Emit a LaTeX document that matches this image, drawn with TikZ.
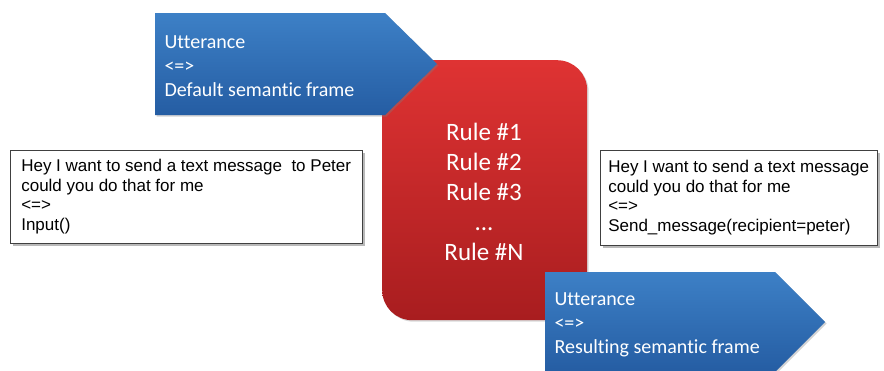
\documentclass[tikz,border=0pt]{standalone}
\usepackage{fontspec}
\setmainfont{Carlito}[Ligatures=NoCommon]
\newfontfamily\arialfont{Liberation Sans}
\usepackage{xcolor}
\usetikzlibrary{shadows}

\definecolor{bluetop}{HTML}{3D80C6}
\definecolor{bluebot}{HTML}{255DA3}
\definecolor{redtop}{HTML}{DF3333}
\definecolor{redbot}{HTML}{A81D1F}

\begin{document}
\begin{tikzpicture}[x=1pt,y=-1pt,
    framearrow/.style={top color=bluetop, bottom color=bluebot,
        drop shadow={shadow xshift=1.5pt, shadow yshift=-1.5pt, opacity=0.35}},
    frametext/.style={text=white, align=left, anchor=west,
        font=\fontsize{20}{24}\selectfont},
    msgbox/.style={draw=black!75, fill=white, align=left, anchor=north west,
        inner sep=0pt, font=\arialfont\fontsize{17}{19.5}\selectfont,
        drop shadow={shadow xshift=2.5pt, shadow yshift=-2.5pt, fill=black!55, opacity=0.5}}]
    % Define page size
    \useasboundingbox (0,0) rectangle (884,370);

    % Rule box in the middle
    \node[rounded corners=30pt, minimum width=205pt, minimum height=260pt,
        top color=redtop, bottom color=redbot, anchor=north west,
        drop shadow={shadow xshift=1.5pt, shadow yshift=-1.5pt, opacity=0.3}] (rules) at (382,60) {};
    \node[text=white, align=center, font=\fontsize{25}{30}\selectfont] (rulelist) at (484,192)
        {Rule \#1\\Rule \#2\\Rule \#3\\...\\Rule \#N};

    % Top arrow: default frame
    \path[framearrow] (155,13) -- (385,13) -- (437,64) -- (385,115) -- (155,115) -- cycle;
    \node[frametext] (deftext) at (161,66) {Utterance\\<=>\\Default semantic frame};

    % Bottom arrow: resulting frame
    \begin{scope}
        \clip (0,0) rectangle (884,370);
        \path[framearrow] (545,272) -- (775,272) -- (825,322) -- (775,372) -- (545,372) -- cycle;
    \end{scope}
    \node[frametext] (restext) at (551,325) {Utterance\\<=>\\Resulting semantic frame};

    % Input and output messages
    \node[msgbox, minimum width=352pt, minimum height=93pt] (input) at (10,150)
        {Hey I want to send a text message \ to Peter\\could you do that for me\\<=>\\Input()};
    \node[msgbox, minimum width=277pt, minimum height=95pt] (output) at (600,150)
        {Hey I want to send a text message\\could you do that for me\\<=>\\Send\_message(recipient=peter)};
\end{tikzpicture}
\end{document}
